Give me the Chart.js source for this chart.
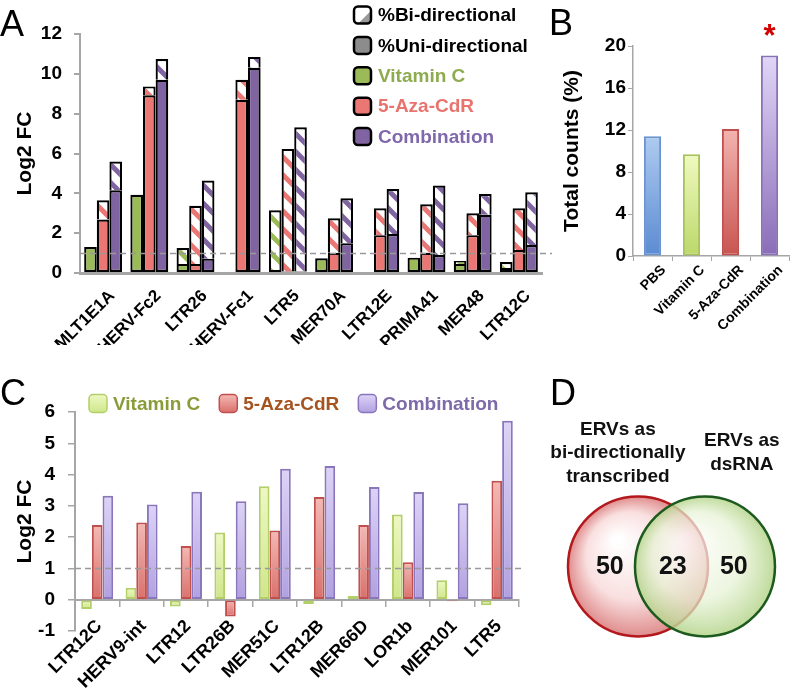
<!DOCTYPE html>
<html>
<head>
<meta charset="utf-8">
<script src="https://cdn.jsdelivr.net/npm/chart.js@4.4.0/dist/chart.umd.min.js"></script>
<style>
  body { margin: 0; background: #fff; }
  #fig { position: relative; width: 793px; height: 695px; overflow: hidden; font-family: 'Liberation Sans', Arial, sans-serif; }
  canvas { position: absolute; }
  .letter { position: absolute; font-size: 36px; line-height: 1; color: #000; }
</style>
</head>
<body>
<div id="fig">
  <canvas id="chartA" width="560" height="345" style="left:0;top:0"></canvas>
  <canvas id="chartB" width="233" height="345" style="left:560px;top:0"></canvas>
  <canvas id="chartC" width="540" height="335" style="left:0;top:360px"></canvas>
  <canvas id="chartD" width="245" height="315" style="left:545px;top:380px"></canvas>
  <div class="letter" style="left:0;top:6px">A</div>
  <div class="letter" style="left:549px;top:5px">B</div>
  <div class="letter" style="left:0;top:375px">C</div>
  <div class="letter" style="left:550px;top:375px">D</div>
</div>
<script>
// ---- data ----
// panel A: log2 FC split into uni-directional (solid) and bi-directional (hatched) parts
const aLabels = ['MLT1E1A', 'HERV-Fc2', 'LTR26', 'HERV-Fc1', 'LTR5', 'MER70A', 'LTR12E', 'PRIMA41', 'MER48', 'LTR12C'];
const vitcUni = [1.3, 3.93, 0.45, 0, 0.15, 0.74, 0, 0.77, 0.45, 0.25];
const vitcBi = [0, 0, 0.8, 0, 3.0, 0, 0, 0, 0.15, 0.3];
const azaUni = [2.68, 8.92, 0.45, 8.7, 0.08, 1.02, 1.9, 1.02, 1.9, 1.16];
const azaBi = [0.97, 0.45, 2.93, 1.0, 6.15, 1.73, 1.35, 2.43, 1.1, 2.09];
const combUni = [4.15, 9.7, 0.72, 10.3, 0.08, 1.5, 1.96, 0.9, 2.92, 1.4];
const combBi = [1.45, 1.04, 3.92, 0.55, 7.24, 2.25, 2.26, 3.49, 1.05, 2.65];

// panel B: total counts (%)
const bLabels = ['PBS', 'Vitamin C', '5-Aza-CdR', 'Combination'];
const bCounts = [11.4, 9.7, 12.1, 19.1];

// panel C: log2 FC
const cLabels = ['LTR12C', 'HERV9-int', 'LTR12', 'LTR26B', 'MER51C', 'LTR12B', 'MER66D', 'LOR1b', 'MER101', 'LTR5'];
const cVitC = [-0.3, 0.38, -0.22, 2.15, 3.63, -0.14, 0.12, 2.72, 0.62, -0.18];
const cAza = [2.39, 2.47, 1.72, -0.54, 2.21, 3.28, 2.39, 1.2, -0.05, 3.8];
const cComb = [3.32, 3.04, 3.45, 3.15, 4.19, 4.27, 3.6, 3.44, 3.08, 5.72];

// panel D: venn
const vennSets = [['ERVs as', 'bi-directionally', 'transcribed'], ['ERVs as', 'dsRNA']];
const vennCounts = [50, 23, 50];

// ---- styling ----
const FONT = "'Liberation Sans', Arial, sans-serif";
const GRAY = '#a6a6a6';
const GREEN = '#9bbb59', RED = '#ea7773', PURPLE = '#8064a2';

Chart.defaults.font.family = FONT;
Chart.defaults.font.weight = 'bold';
Chart.defaults.color = '#000';
Chart.defaults.animation = false;
Chart.defaults.responsive = false;
Chart.defaults.plugins.legend.display = false;
Chart.defaults.plugins.tooltip.enabled = false;

// fixed axis sizes so the plot areas land where the figure has them
const fixY = w => s => { s.width = w; s.paddingTop = 0; s.paddingBottom = 0; };
const fixX = h => s => { if (h !== undefined) s.height = h; s.paddingLeft = 0; s.paddingRight = 0; };

function hatch(color) {
  const s = 18, t = document.createElement('canvas');
  t.width = t.height = s;
  const g = t.getContext('2d');
  g.fillStyle = '#fff';
  g.fillRect(0, 0, s, s);
  g.strokeStyle = color;
  g.lineWidth = 5;
  g.beginPath();
  for (const o of [-s, 0, s]) { g.moveTo(o - 3, -3); g.lineTo(o + s + 3, s + 3); }
  g.stroke();
  return g.createPattern(t, 'repeat');
}

// vertical gradient over each bar's own extent
function barGradient(top, bottom) {
  return c => {
    if (c.type !== 'data' || !c.chart.chartArea) return bottom;
    const ys = c.chart.scales.y;
    const y0 = ys.getPixelForValue(0), y1 = ys.getPixelForValue(c.raw);
    if (Math.abs(y0 - y1) < 1) return bottom;
    const g = c.chart.ctx.createLinearGradient(0, Math.min(y0, y1), 0, Math.max(y0, y1));
    g.addColorStop(0, top);
    g.addColorStop(1, bottom);
    return g;
  };
}

function roundRect(ctx, x, y, w, h, r) {
  ctx.beginPath();
  ctx.moveTo(x + r, y);
  ctx.arcTo(x + w, y, x + w, y + h, r);
  ctx.arcTo(x + w, y + h, x, y + h, r);
  ctx.arcTo(x, y + h, x, y, r);
  ctx.arcTo(x, y, x + w, y, r);
  ctx.closePath();
}

function makeRefLine(value, extend) {
  return {
    id: 'refLine',
    afterDatasetsDraw(chart) {
      const { ctx, chartArea } = chart;
      const y = Math.round(chart.scales.y.getPixelForValue(value)) + 0.5;
      ctx.save();
      ctx.strokeStyle = '#999';
      ctx.lineWidth = 1.5;
      ctx.setLineDash([6, 4]);
      ctx.beginPath();
      ctx.moveTo(chartArea.left, y);
      ctx.lineTo(chartArea.right + extend, y);
      ctx.stroke();
      ctx.restore();
    }
  };
}

function makeLegend(cfg) {
  return {
    id: 'boxLegend',
    afterDraw(chart) {
      const ctx = chart.ctx;
      ctx.save();
      ctx.font = `bold ${cfg.size}px ${FONT}`;
      ctx.textBaseline = 'middle';
      let x = cfg.x, y = cfg.y;
      const b = cfg.box;
      for (const it of cfg.items) {
        const top = y - b / 2;
        roundRect(ctx, x, top, b, b, cfg.radius);
        if (Array.isArray(it.fill)) {
          const g = ctx.createLinearGradient(0, top, 0, top + b);
          g.addColorStop(0, it.fill[0]);
          g.addColorStop(1, it.fill[1]);
          ctx.fillStyle = g;
        } else {
          ctx.fillStyle = it.fill;
        }
        ctx.fill();
        if (it.corner) {
          ctx.save();
          roundRect(ctx, x, top, b, b, cfg.radius);
          ctx.clip();
          ctx.fillStyle = it.corner;
          ctx.beginPath();
          ctx.moveTo(x + b, top + b * 0.25);
          ctx.lineTo(x + b, top + b);
          ctx.lineTo(x + b * 0.25, top + b);
          ctx.closePath();
          ctx.fill();
          ctx.restore();
        }
        roundRect(ctx, x, top, b, b, cfg.radius);
        ctx.lineWidth = cfg.borderWidth;
        ctx.strokeStyle = it.stroke;
        ctx.stroke();
        ctx.fillStyle = it.color;
        ctx.fillText(it.text, x + b + cfg.gap, y + 1);
        if (cfg.vertical) y += cfg.step;
        else x += b + cfg.gap + ctx.measureText(it.text).width + cfg.step;
      }
      ctx.restore();
    }
  };
}

// ---- panel A ----
new Chart(document.getElementById('chartA'), {
  type: 'bar',
  data: {
    labels: aLabels,
    datasets: [
      { data: vitcUni, stack: 'vc', backgroundColor: GREEN, borderSkipped: false },
      { data: vitcBi, stack: 'vc', backgroundColor: hatch(GREEN), borderSkipped: 'start' },
      { data: azaUni, stack: 'aza', backgroundColor: RED, borderSkipped: false },
      { data: azaBi, stack: 'aza', backgroundColor: hatch(RED), borderSkipped: 'start' },
      { data: combUni, stack: 'comb', backgroundColor: PURPLE, borderSkipped: false },
      { data: combBi, stack: 'comb', backgroundColor: hatch(PURPLE), borderSkipped: 'start' }
    ]
  },
  options: {
    layout: { padding: { top: 34, right: 18, left: 0, bottom: 0 } },
    datasets: { bar: { borderColor: '#000', borderWidth: 2.2, categoryPercentage: 0.82, barPercentage: 1 } },
    scales: {
      x: {
        stacked: true,
        grid: { display: true, drawOnChartArea: false, drawTicks: false },
        border: { color: GRAY, width: 3 },
        ticks: { minRotation: 45, maxRotation: 45, autoSkip: false, padding: 13, labelOffset: 9, font: { size: 17 } },
        afterFit: fixX(72)
      },
      y: {
        stacked: true, min: 0, max: 12,
        ticks: { stepSize: 2, padding: 12, font: { size: 19 } },
        grid: { drawOnChartArea: false, tickLength: 6, color: GRAY, lineWidth: 2 },
        border: { color: GRAY, width: 2 },
        title: { display: true, text: 'Log2 FC', font: { size: 21 }, padding: { top: 13 } },
        afterFit: fixY(80)
      }
    }
  },
  plugins: [makeRefLine(1, 10), makeLegend({
    x: 354, y: 15, box: 17, radius: 4, gap: 7, step: 30.4, vertical: true, size: 19, borderWidth: 2.5,
    items: [
      { text: '%Bi-directional', fill: '#fff', corner: '#9a9a9a', stroke: '#000', color: '#000' },
      { text: '%Uni-directional', fill: '#8c8c8c', stroke: '#000', color: '#000' },
      { text: 'Vitamin C', fill: GREEN, stroke: '#000', color: '#8eab4f' },
      { text: '5-Aza-CdR', fill: RED, stroke: '#000', color: '#e9736e' },
      { text: 'Combination', fill: PURPLE, stroke: '#000', color: '#7f68ab' }
    ]
  })]
});

// ---- panel B ----
const bTop = ['#aecbf0', '#f0f9c0', '#f3b4b0', '#e0d6f7'];
const bBottom = ['#5b8bd2', '#bcd86a', '#c85450', '#8a6cb8'];
const bBorder = ['#6b94cf', '#a6c35a', '#c0504d', '#8b72b8'];
new Chart(document.getElementById('chartB'), {
  type: 'bar',
  data: {
    labels: bLabels,
    datasets: [{
      data: bCounts,
      backgroundColor: c => barGradient(bTop[c.dataIndex % 4], bBottom[c.dataIndex % 4])(c),
      borderColor: bBorder,
      borderWidth: 2,
      borderSkipped: false,
      categoryPercentage: 1,
      barPercentage: 0.44
    }]
  },
  options: {
    layout: { padding: { top: 46, right: 4, left: 0, bottom: 0 } },
    scales: {
      x: {
        grid: { drawOnChartArea: false, tickLength: 5, color: GRAY },
        border: { color: GRAY, width: 1.5 },
        ticks: { minRotation: 45, maxRotation: 45, autoSkip: false, padding: 1, labelOffset: 11, font: { size: 14 } },
        afterFit: fixX(89)
      },
      y: {
        min: 0, max: 20,
        ticks: { stepSize: 4, padding: 2, font: { size: 19 } },
        grid: { drawOnChartArea: false, tickLength: 5, color: GRAY },
        border: { color: GRAY, width: 1.5 },
        title: { display: true, text: 'Total counts (%)', font: { size: 21 }, padding: { top: 0 } },
        afterFit: fixY(73)
      }
    }
  },
  plugins: [{
    id: 'star',
    afterDraw(chart) {
      const i = bCounts.indexOf(Math.max(...bCounts));
      const ctx = chart.ctx;
      ctx.save();
      ctx.font = `bold 31px ${FONT}`;
      ctx.fillStyle = '#d40000';
      ctx.textAlign = 'center';
      ctx.textBaseline = 'alphabetic';
      ctx.fillText('*', chart.scales.x.getPixelForValue(i), chart.chartArea.top);
      ctx.restore();
    }
  }]
});

// ---- panel C ----
const cStyle = [
  { top: '#eef8c2', bottom: '#cfe68a', border: '#b2cf6a', text: '#8a9b3a' },
  { top: '#f4b9b5', bottom: '#d9706b', border: '#c0504d', text: '#a5531f' },
  { top: '#ddd3f7', bottom: '#b1a0e0', border: '#8a76bb', text: '#7e6aa9' }
];
const cSeries = [['Vitamin C', cVitC], ['5-Aza-CdR', cAza], ['Combination', cComb]];
new Chart(document.getElementById('chartC'), {
  type: 'bar',
  data: {
    labels: cLabels,
    datasets: cSeries.map(([name, vals], k) => ({
      label: name,
      data: vals,
      backgroundColor: barGradient(cStyle[k].top, cStyle[k].bottom),
      borderColor: cStyle[k].border,
      borderWidth: 2,
      borderSkipped: false,
      categoryPercentage: 0.72,
      barPercentage: 1
    }))
  },
  options: {
    layout: { padding: { top: 52, right: 21, left: 0, bottom: 64 } },
    scales: {
      x: {
        position: { y: 0 },
        grid: { drawOnChartArea: false, tickLength: 6, color: GRAY, lineWidth: 1.5 },
        border: { color: GRAY, width: 2 },
        ticks: { minRotation: 45, maxRotation: 45, autoSkip: false, padding: 10, labelOffset: 2, font: { size: 18 } },
        afterFit: fixX()
      },
      y: {
        min: -1, max: 6,
        ticks: { stepSize: 1, padding: 13, font: { size: 19 } },
        grid: { drawOnChartArea: false, tickLength: 7, color: GRAY, lineWidth: 1.5 },
        border: { color: GRAY, width: 2 },
        title: { display: true, text: 'Log2 FC', font: { size: 21 }, padding: { top: 13 } },
        afterFit: fixY(75)
      }
    }
  },
  plugins: [makeRefLine(1, 2), makeLegend({
    x: 89, y: 43.5, box: 18, radius: 4, gap: 6, step: 19, vertical: false, size: 19, borderWidth: 1.5,
    items: cSeries.map(([name], k) => ({ text: name, fill: [cStyle[k].top, cStyle[k].bottom], stroke: cStyle[k].border, color: cStyle[k].text }))
  })]
});

// ---- panel D ----
const vennColors = [
  { stops: ['rgba(255,255,255,0.98)', 'rgba(249,222,222,0.95)', 'rgba(222,135,135,0.95)'], border: '#b3191c' },
  { stops: ['rgba(255,255,255,0.72)', 'rgba(230,242,212,0.7)', 'rgba(180,212,138,0.85)'], border: '#1d5a1d' }
];
const VENN_R = 70;
new Chart(document.getElementById('chartD'), {
  type: 'bubble',
  data: {
    datasets: [{
      data: vennSets.map((s, i) => ({ x: i, y: 0 })),
      radius: VENN_R,
      hoverRadius: 0,
      borderWidth: 2.5,
      clip: false,
      borderColor: vennColors.map(v => v.border),
      backgroundColor: c => {
        if (c.type !== 'data' || !c.chart.chartArea) return 'rgba(0,0,0,0)';
        const cx = c.chart.scales.x.getPixelForValue(c.raw.x);
        const cy = c.chart.scales.y.getPixelForValue(c.raw.y);
        const g = c.chart.ctx.createRadialGradient(cx - VENN_R * 0.3, cy - VENN_R * 0.38, VENN_R * 0.05, cx, cy, VENN_R);
        const st = vennColors[c.dataIndex].stops;
        g.addColorStop(0, st[0]);
        g.addColorStop(0.6, st[1]);
        g.addColorStop(1, st[2]);
        return g;
      }
    }]
  },
  options: {
    layout: { padding: 0, autoPadding: false },
    scales: {
      x: { display: false, min: -1.388, max: 2.269 },
      y: { display: false, min: -0.69, max: 1 }
    }
  },
  plugins: [{
    id: 'vennText',
    afterDraw(chart) {
      const { ctx } = chart;
      const xs = chart.scales.x, ys = chart.scales.y;
      ctx.save();
      ctx.fillStyle = '#111';
      ctx.textAlign = 'center';
      ctx.textBaseline = 'middle';
      ctx.font = `bold 25px ${FONT}`;
      const countX = [-0.42, 0.52, 1.43];
      vennCounts.forEach((n, i) => ctx.fillText(String(n), xs.getPixelForValue(countX[i]), ys.getPixelForValue(0) + 1));
      ctx.font = `bold 19px ${FONT}`;
      const titleX = [-0.3, 1.55];
      const midY = ys.getPixelForValue(0.609);
      vennSets.forEach((lines, i) => {
        lines.forEach((t, j) => {
          ctx.fillText(t, xs.getPixelForValue(titleX[i]), midY + (j - (lines.length - 1) / 2) * 23.5);
        });
      });
      ctx.restore();
    }
  }]
});
</script>
</body>
</html>
